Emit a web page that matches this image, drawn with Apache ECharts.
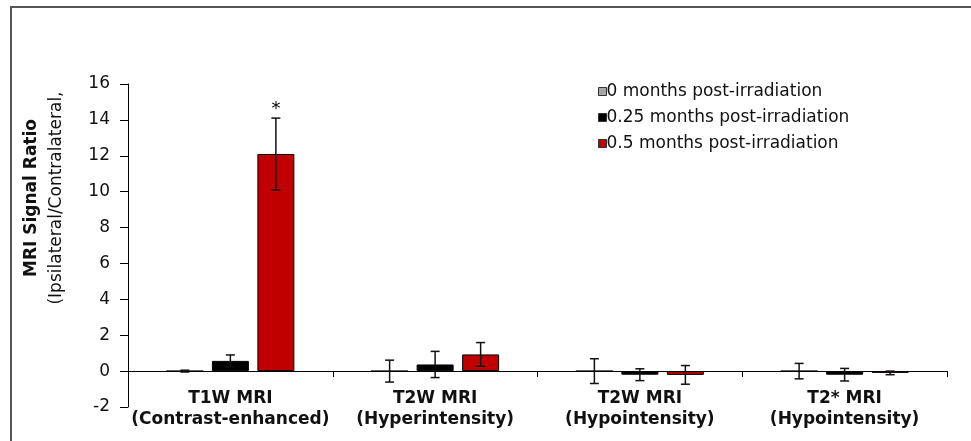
<!DOCTYPE html>
<html>
<head>
<meta charset="utf-8">
<script src="https://cdn.jsdelivr.net/npm/echarts@6/dist/echarts.min.js"></script>
<style>html,body{margin:0;padding:0;background:#fff}#chart{width:971px;height:441px}</style>
</head>
<body>
<div id="chart"></div>
<script>
// ---- data ----
const categories = ['T1W MRI\n(Contrast-enhanced)', 'T2W MRI\n(Hyperintensity)', 'T2W MRI\n(Hypointensity)', 'T2* MRI\n(Hypointensity)'];
const seriesNames = ['0 months post-irradiation', '0.25 months post-irradiation', '0.5 months post-irradiation'];
const month0 = [0, 0, 0, 0];
const month0Err = [0.05, 0.61, 0.69, 0.43];
const month025 = [0.57, 0.37, -0.2, -0.2];
const month025Err = [0.33, 0.73, 0.33, 0.35];
const month05 = [12.1, 0.93, -0.21, -0.1];
const month05Err = [2.0, 0.66, 0.52, 0.1];
const significance = ['*', '', '', ''];
const yTicks = [-2, 0, 2, 4, 6, 8, 10, 12, 14, 16];

// ---- style ----
const FONT = 'DejaVu Sans';
const colors = ['#a6a6a6', '#000000', '#c00000'];
const BAR_W = 37, BAR_GAP = 8.5;

const chart = echarts.init(document.getElementById('chart'), null, {renderer: 'canvas'});

function errSeries(vals, errs, idx, marks) {
  return {
    type: 'custom',
    name: seriesNames[idx] + ' err',
    silent: true,
    z: 5,
    encode: {x: 0, y: [1, 2]},
    data: vals.map((v, i) => [i, v - errs[i], v + errs[i]]),
    renderItem: function (params, api) {
      const c = api.value(0);
      const cx = api.coord([c, 0])[0] + (idx - 1) * (BAR_W + BAR_GAP);
      const lo = api.coord([c, api.value(1)])[1];
      const hi = api.coord([c, api.value(2)])[1];
      const hw = 4.5;
      const st = {stroke: '#111', lineWidth: 1.5};
      const children = [
        {type: 'line', shape: {x1: cx, y1: lo, x2: cx, y2: hi}, style: st},
        {type: 'line', shape: {x1: cx - hw, y1: lo, x2: cx + hw, y2: lo}, style: st},
        {type: 'line', shape: {x1: cx - hw, y1: hi, x2: cx + hw, y2: hi}, style: st}
      ];
      if (marks && marks[params.dataIndex]) {
        children.push({type: 'text', x: cx, y: hi,
          style: {text: marks[params.dataIndex], font: '18px ' + FONT, fill: '#000', align: 'center', verticalAlign: 'bottom'}});
      }
      return {type: 'group', children: children};
    }
  };
}

function barSeries(vals, idx) {
  return {
    type: 'bar',
    name: seriesNames[idx],
    data: vals,
    barWidth: BAR_W,
    barGap: (BAR_GAP / BAR_W * 100).toFixed(1) + '%',
    itemStyle: {color: colors[idx], borderColor: '#000', borderWidth: 1}
  };
}

chart.setOption({
  animation: false,
  textStyle: {fontFamily: FONT},
  grid: {left: 128, right: 24, top: 84, bottom: 34, containLabel: false, outerBoundsMode: 'none'},
  legend: {
    orient: 'vertical',
    left: 593, top: 78,
    itemWidth: 8, itemHeight: 8, itemGap: 9,
    icon: 'rect',
    selectedMode: false,
    data: seriesNames,
    itemStyle: {borderColor: '#333', borderWidth: 1},
    textStyle: {fontFamily: FONT, fontSize: 17, lineHeight: 17, color: '#111', padding: [0, 0, 0, -5]}
  },
  xAxis: {
    type: 'category',
    data: categories,
    axisLine: {onZero: true, lineStyle: {color: '#000', width: 1}},
    axisTick: {show: true, length: 6, alignWithLabel: false, lineStyle: {color: '#000'}},
    axisLabel: {interval: 0, margin: -19, fontFamily: FONT, fontSize: 17, fontWeight: 'bold', lineHeight: 21, color: '#111'},
    splitLine: {show: false}
  },
  yAxis: {
    type: 'value',
    min: yTicks[0], max: yTicks[yTicks.length - 1], interval: 2,
    axisLine: {show: true, lineStyle: {color: '#000', width: 1}},
    axisTick: {show: true, length: 8, lineStyle: {color: '#000'}},
    axisLabel: {margin: 18, fontFamily: FONT, fontSize: 17, color: '#111'},
    splitLine: {show: false}
  },
  graphic: [
    {type: 'rect', shape: {x: 11, y: 7, width: 1000, height: 500}, style: {fill: 'none', stroke: '#555', lineWidth: 2}, silent: true},
    {type: 'text', x: 32, y: 198, rotation: Math.PI / 2,
      style: {text: 'MRI Signal Ratio', font: 'bold 17px ' + FONT, fill: '#111', align: 'center', verticalAlign: 'middle'}},
    {type: 'text', x: 57, y: 198, rotation: Math.PI / 2,
      style: {text: '(Ipsilateral/Contralateral,', font: '17px ' + FONT, fill: '#111', align: 'center', verticalAlign: 'middle'}}
  ],
  series: [
    barSeries(month0, 0),
    barSeries(month025, 1),
    barSeries(month05, 2),
    errSeries(month0, month0Err, 0),
    errSeries(month025, month025Err, 1),
    errSeries(month05, month05Err, 2, significance)
  ]
});
</script>
</body>
</html>
